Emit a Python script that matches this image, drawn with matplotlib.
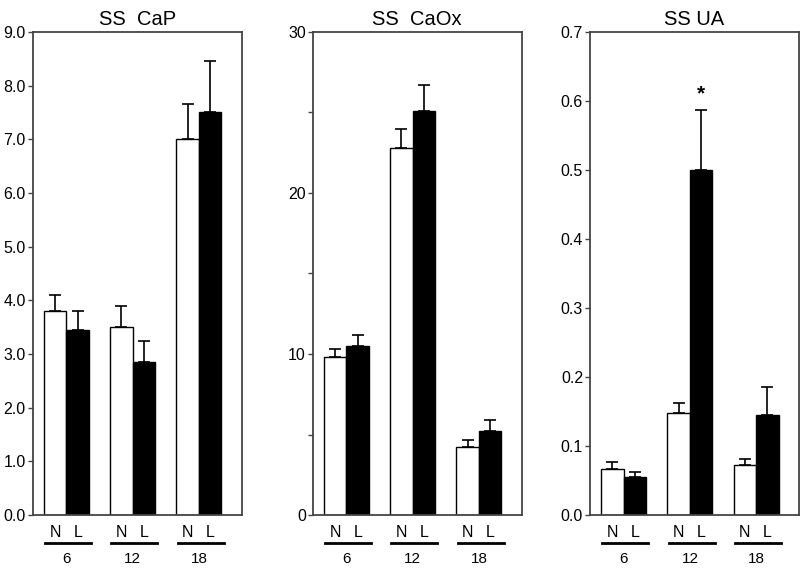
import numpy as np
import matplotlib.pyplot as plt
import matplotlib.transforms as mtransforms

plt.rcParams['font.family'] = ['Liberation Sans', 'DejaVu Sans']

# ── DATA ──────────────────────────────────────────────────────────────────────
groups = ['6', '12', '18']
titles = ['SS  CaP', 'SS  CaOx', 'SS UA']

cap_n     = [3.80, 3.50, 7.00]
cap_n_err = [0.30, 0.40, 0.65]
cap_l     = [3.45, 2.85, 7.50]
cap_l_err = [0.35, 0.40, 0.95]

caox_n     = [9.8, 22.8, 4.2]
caox_n_err = [0.5, 1.2, 0.45]
caox_l     = [10.5, 25.1, 5.2]
caox_l_err = [0.7, 1.6, 0.7]

ua_n     = [0.067, 0.148, 0.072]
ua_n_err = [0.010, 0.014, 0.009]
ua_l     = [0.055, 0.500, 0.145]
ua_l_err = [0.007, 0.087, 0.040]

panels = [
    (cap_n, cap_n_err, cap_l, cap_l_err, (0, 9), np.arange(0, 9.1, 1.0),
     [f"{v:.1f}" for v in np.arange(0, 9.1, 1.0)]),
    (caox_n, caox_n_err, caox_l, caox_l_err, (0, 30), np.arange(0, 31, 5),
     ['0', '', '10', '', '20', '', '30']),
    (ua_n, ua_n_err, ua_l, ua_l_err, (0, 0.7), np.arange(0, 0.71, 0.1),
     [f"{v:.1f}" for v in np.arange(0, 0.71, 0.1)]),
]

# ── LAYOUT ────────────────────────────────────────────────────────────────────
fig = plt.figure(figsize=(8, 5.68), dpi=100)
lefts = [0.041, 0.391, 0.7375]
bottom, width, height = 0.0933, 0.261, 0.8504
x_n = np.array([1.0, 3.95, 6.9])
bw = 1.0
spine_col = '#444444'

for i, (n, n_err, l, l_err, ylim, ticks, ticklabels) in enumerate(panels):
    ax = fig.add_axes([lefts[i], bottom, width, height])
    ax.bar(x_n, n, width=bw, color='white', edgecolor='black', lw=1.0,
           yerr=[np.zeros(3), n_err], capsize=4,
           error_kw=dict(ecolor='black', elinewidth=1.2, capthick=1.2), zorder=2)
    ax.bar(x_n + bw, l, width=bw, color='black', edgecolor='black', lw=1.0,
           yerr=[np.zeros(3), l_err], capsize=4,
           error_kw=dict(ecolor='black', elinewidth=1.2, capthick=1.2), zorder=2)
    ax.set_xlim(0, 9.3)
    ax.set_ylim(*ylim)
    ax.set_yticks(ticks)
    ax.set_yticklabels(ticklabels, fontsize=11.5)
    ax.set_xticks([])
    ax.tick_params(axis='y', direction='out', length=3.5, width=1, color=spine_col, pad=1.5)
    for s in ax.spines.values():
        s.set_color(spine_col)
        s.set_linewidth(1.3)
    ax.set_title(titles[i], fontsize=14.5, pad=5)

    trans = mtransforms.blended_transform_factory(ax.transData, ax.transAxes)
    for k, g in enumerate(groups):
        ax.text(x_n[k], -0.02, 'N', transform=trans, ha='center', va='top', fontsize=11.5)
        ax.text(x_n[k] + bw, -0.02, 'L', transform=trans, ha='center', va='top', fontsize=11.5)
        ax.plot([x_n[k] - 0.45, x_n[k] + bw + 0.6], [-0.058, -0.058], transform=trans,
                color='black', lw=2, clip_on=False)
        ax.text(x_n[k] + 0.5, -0.076, g, transform=trans, ha='center', va='top', fontsize=11)

    if i == 2:
        ax.text(x_n[1] + bw, ua_l[1] + ua_l_err[1] + 0.01, '*', ha='center', va='bottom',
                fontsize=15, fontweight='bold')

plt.savefig('out.png', dpi=100)
